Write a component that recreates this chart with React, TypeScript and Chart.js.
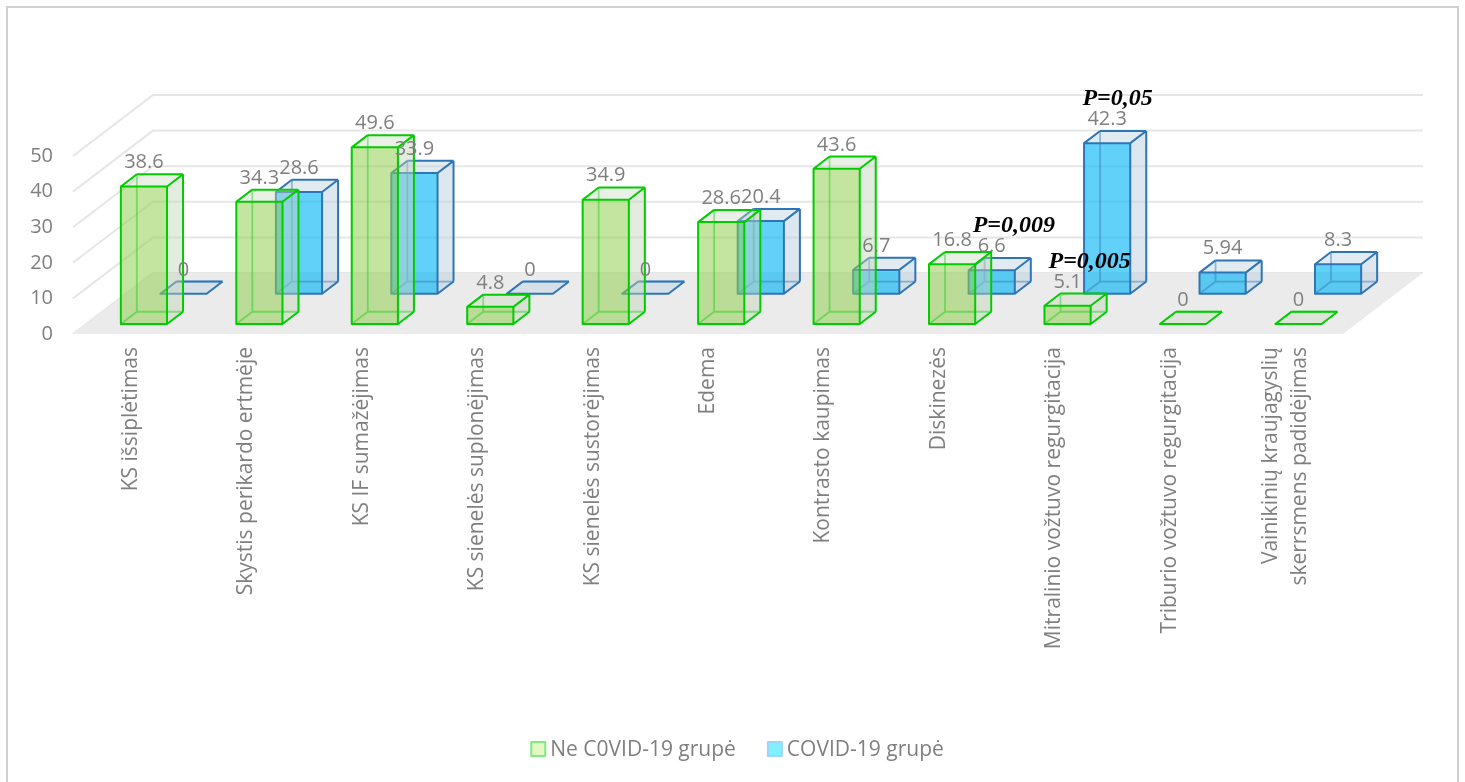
import React, { useEffect, useRef } from "react";
import { Chart, registerables } from "chart.js";

Chart.register(...registerables);

// ---------- data ----------
const categories: (string | string[])[] = [
  "KS išsiplėtimas",
  "Skystis perikardo ertmėje",
  "KS IF sumažėjimas",
  "KS sienelės suplonėjimas",
  "KS sienelės sustorėjimas",
  "Edema",
  "Kontrasto kaupimas",
  "Diskinezės",
  "Mitralinio vožtuvo regurgitacija",
  "Triburio vožtuvo regurgitacija",
  ["Vainikinių kraujagyslių", "skerrsmens padidėjimas"],
];
const nonCovidValues = [38.6, 34.3, 49.6, 4.8, 34.9, 28.6, 43.6, 16.8, 5.1, 0, 0];
const covidValues = [0, 28.6, 33.9, 0, 0, 20.4, 6.7, 6.6, 42.3, 5.94, 8.3];
const seriesNames = ["Ne C0VID-19 grupė", "COVID-19 grupė"];
const yMin = 0;
const yMax = 50;
const yStep = 10;
const pValueTexts = ["P=0,009", "P=0,005", "P=0,05"];
const pValueCategories = [7, 8, 8];
const pValueSeries = [1, 0, 1];

// ---------- styles ----------
const FONT = "'Open Sans', 'DejaVu Sans', sans-serif";
const TEXT_GRAY = "#7f7f7f";
const X_FONT_SIZE = 21;
const X_LINE_HEIGHT = 1.4;
const DEPTH_X = 80;
const DEPTH_Y = -61;
const seriesStyles = [
  {
    depth: 0.165,
    thick: 0.2,
    front: "rgba(146,208,80,0.55)",
    side: "rgba(196,212,186,0.45)",
    top: "rgba(205,218,195,0.4)",
    edge: "#00cc00",
    hidden: "rgba(0,204,0,0.4)",
    legendFill: "#e3f8c3",
    legendEdge: "#7ded7d",
  },
  {
    depth: 0.66,
    thick: 0.2,
    front: "rgba(0,180,245,0.62)",
    side: "rgba(185,208,225,0.5)",
    top: "rgba(190,210,225,0.45)",
    edge: "#2e75b6",
    hidden: "rgba(46,117,182,0.45)",
    legendFill: "#80f0ff",
    legendEdge: "#9dd5fb",
  },
];

function drawBox(ctx: CanvasRenderingContext2D, xl: number, xr: number, yTop: number, yBase: number, ox: number, oy: number, st: any) {
  const A = [xl, yBase], B = [xr, yBase], C = [xr, yTop], D = [xl, yTop];
  const A2 = [xl + ox, yBase + oy], B2 = [xr + ox, yBase + oy], C2 = [xr + ox, yTop + oy], D2 = [xl + ox, yTop + oy];
  const poly = (pts: number[][], fill: string) => {
    ctx.beginPath();
    ctx.moveTo(pts[0][0], pts[0][1]);
    for (let i = 1; i < pts.length; i++) ctx.lineTo(pts[i][0], pts[i][1]);
    ctx.closePath();
    ctx.fillStyle = fill;
    ctx.fill();
  };
  const seg = (p: number[], q: number[]) => {
    ctx.moveTo(p[0], p[1]);
    ctx.lineTo(q[0], q[1]);
  };
  poly([B, B2, C2, C], st.side);
  poly([D, C, C2, D2], st.top);
  if (yBase - yTop > 0.5) poly([A, B, C, D], st.front);
  ctx.lineWidth = 1.8;
  ctx.strokeStyle = st.hidden;
  ctx.beginPath();
  seg(A2, B2);
  seg(A2, D2);
  seg(A, A2);
  ctx.stroke();
  ctx.lineWidth = 2;
  ctx.lineJoin = "round";
  ctx.strokeStyle = st.edge;
  ctx.beginPath();
  ctx.moveTo(A[0], A[1]);
  ctx.lineTo(B[0], B[1]);
  ctx.lineTo(C[0], C[1]);
  ctx.lineTo(D[0], D[1]);
  ctx.closePath();
  seg(B, B2);
  seg(B2, C2);
  seg(C2, D2);
  seg(D2, D);
  seg(C, C2);
  ctx.stroke();
}

const threeDPlugin = {
  id: "threeD",
  beforeDatasetsDraw(chart: any) {
    const { ctx, chartArea: ca, scales } = chart;
    const y = scales.y;
    const b = y.getPixelForValue(0);
    ctx.save();
    ctx.strokeStyle = "#e6e6e6";
    ctx.lineWidth = 2;
    y.ticks.forEach((t: any) => {
      const py = y.getPixelForValue(t.value);
      ctx.beginPath();
      ctx.moveTo(ca.left, py);
      ctx.lineTo(ca.left + DEPTH_X, py + DEPTH_Y);
      ctx.lineTo(ca.right + DEPTH_X, py + DEPTH_Y);
      ctx.stroke();
    });
    ctx.fillStyle = "#ebebeb";
    ctx.beginPath();
    ctx.moveTo(ca.left, b);
    ctx.lineTo(ca.right, b);
    ctx.lineTo(ca.right + DEPTH_X, b + DEPTH_Y);
    ctx.lineTo(ca.left + DEPTH_X, b + DEPTH_Y);
    ctx.closePath();
    ctx.fill();
    ctx.restore();
  },
  afterDatasetsDraw(chart: any) {
    const { ctx } = chart;
    ctx.save();
    const order = [1, 0];
    const labelInfo: any[][] = [[], []];
    order.forEach((di) => {
      const st = seriesStyles[di];
      const meta = chart.getDatasetMeta(di);
      meta.data.forEach((el: any, i: number) => {
        const p = el.getProps(["x", "y", "base", "width"], true);
        const ox = st.depth * DEPTH_X;
        const oy = st.depth * DEPTH_Y;
        const xl = p.x - p.width / 2 + ox;
        const xr = p.x + p.width / 2 + ox;
        const yTop = p.y + oy;
        const yBase = p.base + oy;
        drawBox(ctx, xl, xr, yTop, yBase, st.thick * DEPTH_X, st.thick * DEPTH_Y, st);
        labelInfo[di][i] = { cx: p.x + ox, baseline: yTop + st.thick * DEPTH_Y - 6 };
      });
    });
    // data labels
    ctx.font = `20px ${FONT}`;
    ctx.fillStyle = TEXT_GRAY;
    ctx.textAlign = "center";
    ctx.textBaseline = "alphabetic";
    order.forEach((di) => {
      const vals = chart.data.datasets[di].data;
      vals.forEach((v: number, i: number) => {
        const li = labelInfo[di][i];
        const txt = String(v);
        li.left = li.cx - ctx.measureText(txt).width / 2;
        ctx.fillText(txt, li.cx, li.baseline);
      });
    });
    // p-value notes
    ctx.font = `bold italic 24px 'Liberation Serif', 'Times New Roman', serif`;
    ctx.fillStyle = "#000";
    ctx.textAlign = "left";
    pValueTexts.forEach((txt, k) => {
      const li = labelInfo[pValueSeries[k]][pValueCategories[k]];
      ctx.fillText(txt, li.left - 5, li.baseline - 20);
    });
    // legend
    ctx.font = `21px ${FONT}`;
    const box = 14, gap = 5, itemGap = 32;
    const widths = seriesNames.map((s) => ctx.measureText(s).width);
    const total = widths.reduce((a, w) => a + box + gap + w, 0) + itemGap * (seriesNames.length - 1);
    let x = chart.width / 2 + 5 - total / 2;
    const ly = 741;
    seriesNames.forEach((name, i) => {
      const st = seriesStyles[i];
      ctx.fillStyle = st.legendFill;
      ctx.fillRect(x, ly - box / 2, box, box);
      ctx.strokeStyle = st.legendEdge;
      ctx.lineWidth = 2;
      ctx.strokeRect(x, ly - box / 2, box, box);
      ctx.fillStyle = TEXT_GRAY;
      ctx.textBaseline = "middle";
      ctx.fillText(name, x + box + gap, ly + 1);
      x += box + gap + widths[i] + itemGap;
    });
    ctx.restore();
  },
  afterDraw(chart: any) {
    // multi-line category labels, centred on their tick
    const { ctx } = chart;
    const xs = chart.scales.x;
    const lh = X_FONT_SIZE * X_LINE_HEIGHT;
    ctx.save();
    ctx.font = `${X_FONT_SIZE}px ${FONT}`;
    ctx.fillStyle = TEXT_GRAY;
    ctx.textAlign = "right";
    ctx.textBaseline = "middle";
    chart.data.labels.forEach((lab: any, i: number) => {
      if (!Array.isArray(lab)) return;
      const px = xs.getPixelForTick(i);
      const top = xs.top + 13;
      ctx.save();
      ctx.translate(px, top);
      ctx.rotate(-Math.PI / 2);
      lab.forEach((line: string, k: number) => {
        ctx.fillText(line, 0, (k - (lab.length - 1) / 2) * lh);
      });
      ctx.restore();
    });
    ctx.restore();
  },
};

export default function App() {
  const ref = useRef<HTMLCanvasElement>(null);
  useEffect(() => {
    const chart = new Chart(ref.current as HTMLCanvasElement, {
      type: "bar",
      data: {
        labels: categories as any,
        datasets: [
          {
            label: seriesNames[0],
            data: nonCovidValues,
            backgroundColor: "rgba(0,0,0,0)",
            borderWidth: 0,
            grouped: false,
            barPercentage: 0.4,
            categoryPercentage: 1,
          } as any,
          {
            label: seriesNames[1],
            data: covidValues,
            backgroundColor: "rgba(0,0,0,0)",
            borderWidth: 0,
            grouped: false,
            barPercentage: 0.4,
            categoryPercentage: 1,
          } as any,
        ],
      },
      options: {
        animation: false,
        responsive: false,
        devicePixelRatio: 1,
        events: [],
        layout: { padding: { top: 148, right: 114, left: 0, bottom: 0 } },
        plugins: { legend: { display: false }, tooltip: { enabled: false } },
        scales: {
          x: {
            grid: { display: false, drawTicks: true, tickLength: 10 },
            border: { display: false },
            ticks: {
              color: (c: any) =>
                Array.isArray(categories[c.index]) ? "rgba(0,0,0,0)" : TEXT_GRAY,
              font: { size: X_FONT_SIZE, family: FONT, lineHeight: X_LINE_HEIGHT },
              minRotation: 90,
              maxRotation: 90,
              autoSkip: false,
              padding: 3,
            },
            afterFit: (s: any) => {
              s.height = 448;
            },
          },
          y: {
            min: yMin,
            max: yMax,
            grid: { display: false, drawTicks: false },
            border: { display: false },
            ticks: {
              stepSize: yStep,
              color: TEXT_GRAY,
              font: { size: 20, family: FONT },
              padding: 20,
            },
            afterFit: (s: any) => {
              s.width = 65;
            },
          },
        },
      } as any,
      plugins: [threeDPlugin],
    });
    return () => chart.destroy();
  }, []);
  return (
    <div
      style={{
        position: "absolute",
        left: 6,
        top: 6,
        width: 1449,
        height: 774,
        borderTop: "2px solid #d0d0d0",
        borderLeft: "2px solid #d0d0d0",
        borderRight: "2px solid #d0d0d0",
        borderBottom: "2px solid #d0d0d0",
        background: "#fff",
      }}
    >
      <canvas ref={ref} width={1449} height={774} style={{ display: "block" }} />
    </div>
  );
}
